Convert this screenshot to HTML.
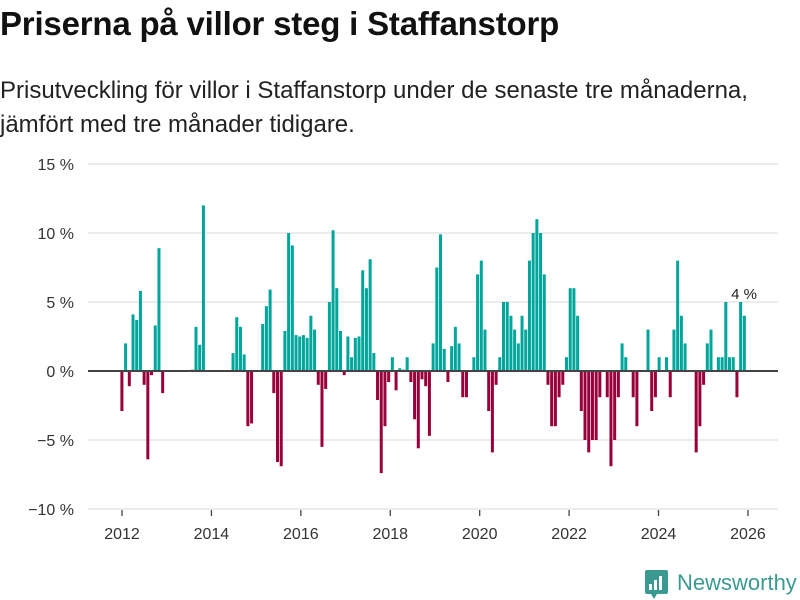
<!DOCTYPE html>
<html><head><meta charset="utf-8">
<style>
body{margin:0;width:800px;height:600px;background:#fff;overflow:hidden;font-family:"Liberation Sans",sans-serif;}
#title{position:absolute;left:0;top:5px;font-size:33px;font-weight:bold;color:#111;white-space:nowrap;letter-spacing:-0.2px}
#sub{position:absolute;left:0;top:74px;font-size:24px;line-height:34px;color:#222;width:800px;white-space:nowrap}
svg{position:absolute;left:0;top:0}
</style></head><body>
<div id="title">Priserna på villor steg i Staffanstorp</div>
<div id="sub">Prisutveckling för villor i Staffanstorp under de senaste tre månaderna,<br>jämfört med tre månader tidigare.</div>
<svg id="chart" width="800" height="600">
  <g id="grid"></g>
  <g id="bars"></g>
  <g id="axes"></g>
  <text x="744" y="299" font-size="15" fill="#222" text-anchor="middle" font-family="Liberation Sans, sans-serif">4 %</text>
  <g>
    <rect x="645" y="570" width="23" height="24" rx="2" fill="#3a9a92"/>
    <polygon points="651,594 657,594 654,599" fill="#3a9a92"/>
    <rect x="649" y="584" width="3" height="6" fill="#fff"/>
    <rect x="654" y="580" width="3" height="10" fill="#fff"/>
    <rect x="659" y="576" width="3" height="14" fill="#fff"/>
    <text x="677" y="590" font-size="22" fill="#3a9a92" font-family="Liberation Sans, sans-serif">Newsworthy</text>
  </g>
</svg>
<script>
const values = [-2.9,2.0,-1.1,4.1,3.7,5.8,-1.0,-6.4,-0.3,3.3,8.9,-1.6,
0,0,0,0,0,0,0,0.1,3.2,1.9,12.0,0,
0,0,0,0,0,0,1.3,3.9,3.2,1.2,-4.0,-3.8,
0,0,3.4,4.7,5.9,-1.6,-6.6,-6.9,2.9,10.0,9.1,2.6,
2.5,2.6,2.4,4.0,3.0,-1.0,-5.5,-1.3,5.0,10.2,6.0,2.9,
-0.3,2.5,1.0,2.4,2.5,7.3,6.0,8.1,1.3,-2.1,-7.4,-4.0,
-0.8,1.0,-1.4,0.2,0.1,1.0,-0.8,-3.5,-5.6,-0.6,-1.1,-4.7,
2.0,7.5,9.9,1.6,-0.8,1.8,3.2,2.0,-1.9,-1.9,0,1.0,
7.0,8.0,3.0,-2.9,-5.9,-1.0,1.0,5.0,5.0,4.0,3.0,2.0,
4.0,3.0,8.0,10.0,11.0,10.0,7.0,-1.0,-4.0,-4.0,-1.9,-1.0,
1.0,6.0,6.0,4.0,-2.9,-5.0,-5.9,-5.0,-5.0,-1.9,0,-1.9,
-6.9,-5.0,-1.9,2.0,1.0,0,-1.9,-4.0,0,0,3.0,-2.9,
-1.9,1.0,0,1.0,-1.9,3.0,8.0,4.0,2.0,0,0,-5.9,
-4.0,-1.0,2.0,3.0,0,1.0,1.0,5.0,1.0,1.0,-1.9,5.0,4.0];
const yTicks = [15,10,5,0,-5,-10];
const yTickLabels = ["15 %","10 %","5 %","0 %","−5 %","−10 %"];
const xTickYears = [2012,2014,2016,2018,2020,2022,2024,2026];

const NS="http://www.w3.org/2000/svg";
function y(v){return 371 - v*13.8;}
function xBar(i){return 122 + i*3.705;}
function xYear(yr){return 122 + (yr-2012)*44.71;}
function mk(tag,attrs,parent){const e=document.createElementNS(NS,tag);for(const k in attrs)e.setAttribute(k,attrs[k]);parent.appendChild(e);return e;}
const grid=document.getElementById('grid'), bars=document.getElementById('bars'), axes=document.getElementById('axes');
yTicks.forEach((t,k)=>{
  if(t!==0){
    const l=mk('line',{x1:88,x2:778,y1:y(t),y2:y(t),stroke:'#e0e0e0','stroke-width':1.3},grid);
    
    
  }
  const tx=mk('text',{x:74,y:y(t)+6,'text-anchor':'end','font-size':16,fill:'#333','font-family':'Liberation Sans, sans-serif'},axes);
  tx.textContent=yTickLabels[k];
  
  
});
values.forEach((v,i)=>{
  const c=xBar(i);
  const top=v>=0?y(v):y(0), h=Math.abs(y(v)-y(0));
  const r=mk('rect',{x:c-1.6,y:top,width:3,height:Math.max(h,0),fill:v>=0?'#00a59b':'#990039'},bars);
  
  
});
const zl=mk('line',{x1:88,x2:778,y1:y(0),y2:y(0),stroke:'#444','stroke-width':2},axes);


xTickYears.forEach(yr=>{
  const x=xYear(yr);
  const tk=mk('line',{x1:x,x2:x,y1:510,y2:516,stroke:'#444','stroke-width':1.3},axes);
  
  
  const tx=mk('text',{x:x,y:539,'text-anchor':'middle','font-size':16,fill:'#333','font-family':'Liberation Sans, sans-serif'},axes);
  tx.textContent=yr;
  
  
});
</script>
</body></html>
